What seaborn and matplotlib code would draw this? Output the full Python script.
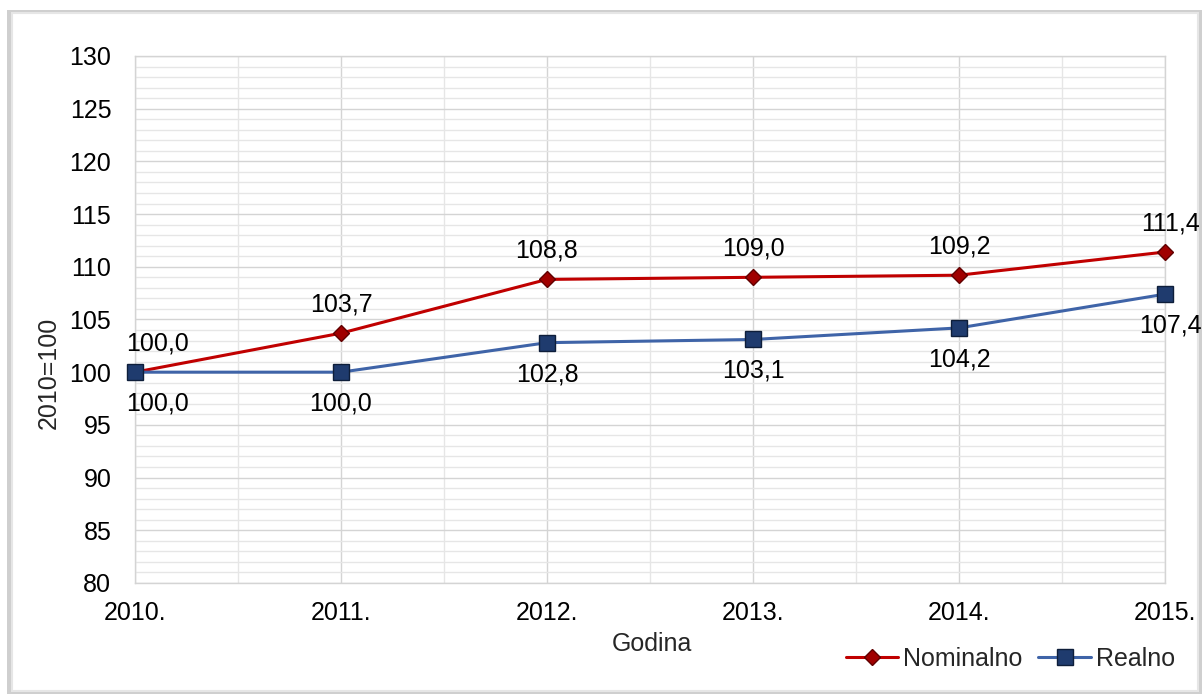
import matplotlib
matplotlib.use("Agg")
import matplotlib.pyplot as plt
from matplotlib.patches import Rectangle
from matplotlib.ticker import MultipleLocator
import numpy as np
import pandas as pd
import seaborn as sns

# data
years = ["2010.", "2011.", "2012.", "2013.", "2014.", "2015."]
nominalno = [100.0, 103.7, 108.8, 109.0, 109.2, 111.4]
realno = [100.0, 100.0, 102.8, 103.1, 104.2, 107.4]
series_names = ["Nominalno", "Realno"]

sns.set_theme(style="white")
plt.rcParams['font.family'] = ['Liberation Sans', 'DejaVu Sans']
FS = 18

pos = np.arange(len(years))
df = pd.DataFrame({
    "pos": np.concatenate([pos, pos]),
    "value": nominalno + realno,
    "serie": [series_names[0]] * len(years) + [series_names[1]] * len(years),
})

fig = plt.figure(figsize=(12.04, 6.97), dpi=100)

# outer frame with a soft shadow like the exported office chart
fig.patches.append(Rectangle((0.006, 0.005), 0.992, 0.98, transform=fig.transFigure,
                             facecolor="#CFCFCF", edgecolor="none", zorder=-2))
fig.patches.append(Rectangle((0.01, 0.009), 0.985, 0.972, transform=fig.transFigure,
                             facecolor="white", edgecolor="#E6E6E6", linewidth=1.5, zorder=-1))

ax = fig.add_axes([0.1121, 0.1636, 0.8555, 0.7561])
ax.set_facecolor("none")
ax.set_zorder(1)

palette = {"Nominalno": "#C00000", "Realno": "#3F64A8"}
sns.lineplot(data=df, x="pos", y="value", hue="serie", palette=palette,
             linewidth=2.2, legend=False, ax=ax, zorder=3)

# markers drawn separately so face/edge colours match the reference
ax.plot(pos, nominalno, linestyle="none", marker="D", markersize=8,
        markerfacecolor="#A00000", markeredgecolor="#600000", zorder=4, clip_on=False)
ax.plot(pos, realno, linestyle="none", marker="s", markersize=11,
        markerfacecolor="#1F3B6E", markeredgecolor="#0E1E3A", zorder=4, clip_on=False)

# data labels
for i, (n, r) in enumerate(zip(nominalno, realno)):
    dx = 0
    if i == 0:
        dx = 16
    elif i == len(years) - 1:
        dx = 4
    ax.annotate("{:.1f}".format(n).replace(".", ","), (pos[i], n), xytext=(dx, 12),
                textcoords="offset points", ha="center", va="bottom", fontsize=FS, color="black")
    ax.annotate("{:.1f}".format(r).replace(".", ","), (pos[i], r), xytext=(dx, -14),
                textcoords="offset points", ha="center", va="top", fontsize=FS, color="black")

ax.set_xlim(0, 5)
ax.set_ylim(80, 130)
ax.set_xticks(pos)
ax.set_xticklabels(years)
ax.xaxis.set_minor_locator(MultipleLocator(0.5))
ax.yaxis.set_major_locator(MultipleLocator(5))
ax.yaxis.set_minor_locator(MultipleLocator(1))
ax.tick_params(axis="both", which="both", length=0, labelsize=FS, colors="black")
ax.tick_params(axis="x", pad=13)
ax.tick_params(axis="y", pad=17)

ax.grid(which="major", axis="both", color="#D4D4D4", linewidth=1.0)
ax.grid(which="minor", axis="both", color="#E6E6E6", linewidth=1.0)
ax.set_axisbelow(True)
for s in ax.spines.values():
    s.set_color("#D4D4D4")
    s.set_linewidth(1.0)

ax.set_xlabel("Godina", fontsize=FS)
ax.set_ylabel("2010=100", fontsize=FS)
ax.xaxis.set_label_coords(0.502, -0.093)
ax.yaxis.set_label_coords(-0.072, 0.398)

# legend
h1, = ax.plot([], [], color="#C00000", linewidth=2.2, marker="D", markersize=8,
              markerfacecolor="#A00000", markeredgecolor="#600000")
h2, = ax.plot([], [], color="#3F64A8", linewidth=2.2, marker="s", markersize=11,
              markerfacecolor="#1F3B6E", markeredgecolor="#0E1E3A")
fig.legend([h1, h2], series_names, loc="center right", bbox_to_anchor=(0.976, 0.0545),
           ncol=2, frameon=False, fontsize=FS, handlelength=2.1, handletextpad=0.2,
           columnspacing=0.64, borderpad=0, borderaxespad=0)

fig.savefig("out.png", dpi=100)
